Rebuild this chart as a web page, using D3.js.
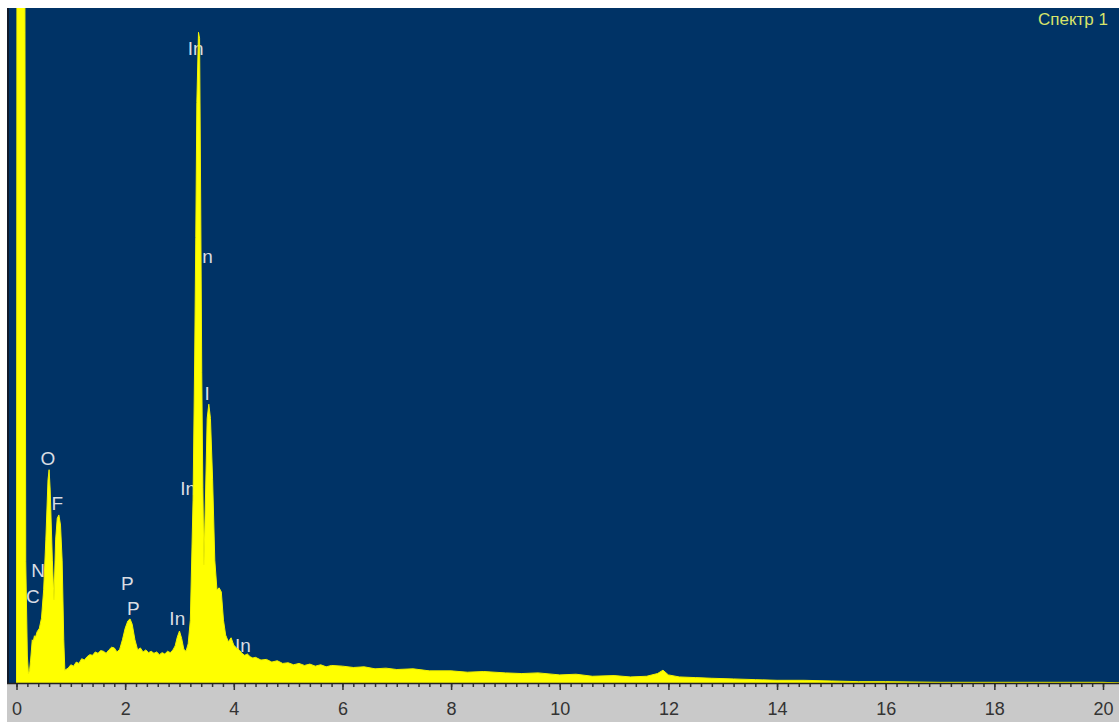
<!DOCTYPE html>
<html>
<head>
<meta charset="utf-8">
<script src="https://cdn.jsdelivr.net/npm/d3@7"></script>
<style>
  body { margin: 0; background: #fff; }
  svg { display: block; font-family: 'Liberation Sans', Arial, sans-serif; }
</style>
</head>
<body>
<svg id="chart"></svg>
<script>
// EDS spectrum, energy in keV and counts
const energies = [
  0.00, 0.01, 0.15, 0.17, 0.20, 0.22, 0.24, 0.26, 0.29, 0.31, 0.33, 0.35, 0.38, 0.42, 0.46,
  0.50, 0.54, 0.58, 0.60, 0.62, 0.66, 0.69, 0.72, 0.75, 0.78, 0.81, 0.84, 0.87, 0.89, 0.95,
  1.00, 1.05, 1.10, 1.15, 1.20, 1.25, 1.30, 1.35, 1.40, 1.45, 1.50, 1.55, 1.60, 1.65, 1.70,
  1.75, 1.80, 1.85, 1.90, 1.95, 2.00, 2.05, 2.09, 2.13, 2.18, 2.23, 2.28, 2.33, 2.38, 2.43,
  2.48, 2.53, 2.58, 2.63, 2.68, 2.73, 2.78, 2.83, 2.88, 2.92, 2.96, 3.00, 3.04, 3.08, 3.12,
  3.16, 3.20, 3.25, 3.28, 3.30, 3.32, 3.35, 3.37, 3.39, 3.41, 3.43, 3.45, 3.48, 3.51, 3.54,
  3.57, 3.61, 3.65, 3.69, 3.73, 3.77, 3.81, 3.85, 3.90, 3.95, 4.00, 4.05, 4.10, 4.15, 4.20,
  4.25, 4.30, 4.35, 4.40, 4.50, 4.60, 4.70, 4.80, 4.90, 5.00, 5.10, 5.20, 5.30, 5.40, 5.50,
  5.60, 5.70, 5.80, 6.00, 6.20, 6.40, 6.60, 6.80, 7.00, 7.30, 7.60, 8.00, 8.30, 8.60, 9.00,
  9.30, 9.60, 10.0, 10.3, 10.6, 11.0, 11.3, 11.6, 11.8, 11.9, 12.0, 12.2, 12.5, 12.8, 13.2,
  13.6, 14.0, 14.5, 15.0, 15.5, 16.0, 17.0, 18.0, 19.0, 20.0, 20.3
];
const counts = [
  0, 1300, 1300, 180, 40, 14, 18, 34, 64, 62, 70, 68, 76, 81, 96,
  138, 212, 301, 316, 286, 182, 123, 212, 244, 249, 234, 182, 64, 19, 22,
  27, 25, 31, 29, 36, 34, 39, 42, 41, 46, 44, 48, 47, 44, 49,
  53, 52, 46, 50, 64, 81, 92, 95, 87, 64, 49, 52, 46, 49, 45,
  47, 44, 46, 42, 45, 43, 47, 45, 49, 55, 68, 77, 66, 50, 47,
  58, 93, 271, 480, 660, 860, 964, 955, 720, 460, 290, 175, 280, 392, 413,
  392, 301, 182, 138, 141, 135, 93, 71, 61, 67, 56, 52, 49, 44, 41,
  43, 39, 37, 38, 34, 35, 31, 33, 29, 30, 27, 29, 26, 28, 25,
  27, 24, 26, 25, 23, 24, 21, 22, 20, 21, 18, 18, 16, 17, 15,
  14, 15, 12, 13, 10, 11, 9, 10, 14, 19, 12, 9, 8, 7, 6,
  5, 4, 4, 3, 2, 2, 1, 1, 1, 1, 0
];

// element labels: text, energy, counts at the label baseline
const labelText = ['O', 'F', 'N', 'C', 'P', 'P', 'In', 'In', 'In', 'In', 'I', 'In'];
const labelEnergy = [0.58, 0.75, 0.40, 0.30, 2.04, 2.15, 2.96, 3.16, 3.30, 3.47, 3.51, 4.17];
const labelCounts = [323, 256, 157, 119, 138, 101, 86, 279, 930, 622, 420, 46];

const xTicks = [0, 2, 4, 6, 8, 10, 12, 14, 16, 18, 20];
const title = 'Спектр 1';

const width = 1119;
const height = 722;
const plot = { left: 9, top: 8, right: 1119, bottom: 683 };

const svg = d3.select('#chart')
  .attr('width', width)
  .attr('height', height);

const x = d3.scaleLinear().domain([0, 20]).range([16.5, 1103]);
const y = d3.scaleLinear().domain([0, 1000]).range([plot.bottom, plot.top]);

// plot background
svg.append('rect')
  .attr('x', plot.left)
  .attr('y', plot.top)
  .attr('width', plot.right - plot.left)
  .attr('height', plot.bottom - plot.top)
  .attr('fill', '#003366');

svg.append('defs').append('clipPath')
  .attr('id', 'clip')
  .append('rect')
  .attr('x', plot.left)
  .attr('y', plot.top)
  .attr('width', plot.right - plot.left)
  .attr('height', plot.bottom - plot.top);

const data = energies.map((e, i) => ({ e, c: counts[i] }));

// labels go under the spectrum, peaks hide parts of them
svg.append('g')
  .attr('clip-path', 'url(#clip)')
  .selectAll('text')
  .data(labelText)
  .enter()
  .append('text')
  .attr('x', (d, i) => x(labelEnergy[i]))
  .attr('y', (d, i) => y(labelCounts[i]))
  .attr('text-anchor', 'middle')
  .attr('fill', '#d9dde3')
  .style('font-size', '19px')
  .text(d => d);

const area = d3.area()
  .x(d => x(d.e))
  .y0(y(0))
  .y1(d => y(d.c));

svg.append('path')
  .datum(data)
  .attr('clip-path', 'url(#clip)')
  .attr('d', area)
  .attr('fill', '#ffff00')
  .attr('stroke', '#f2f200')
  .attr('stroke-width', 1);

svg.append('text')
  .attr('x', 1108)
  .attr('y', 25)
  .attr('text-anchor', 'end')
  .attr('fill', '#d8e46a')
  .style('font-size', '17px')
  .text(title);

// axis strip
svg.append('rect')
  .attr('x', plot.left - 2)
  .attr('y', plot.bottom)
  .attr('width', width - plot.left + 2)
  .attr('height', height - plot.bottom)
  .attr('fill', '#c9c9c9');

const minor = svg.append('g')
  .attr('transform', `translate(0, ${plot.bottom})`)
  .call(d3.axisBottom(x)
    .tickValues(d3.range(0, 101).map(i => i * 0.2))
    .tickSize(4)
    .tickSizeOuter(0)
    .tickFormat(''));
minor.select('.domain').remove();
minor.selectAll('line').attr('stroke', '#333').attr('stroke-width', 1.5);

const major = svg.append('g')
  .attr('transform', `translate(0, ${plot.bottom})`)
  .call(d3.axisBottom(x)
    .tickValues(xTicks)
    .tickSize(7)
    .tickSizeOuter(0)
    .tickPadding(12)
    .tickFormat(d3.format('d')));
major.select('.domain').remove();
major.selectAll('line').attr('stroke', '#333').attr('stroke-width', 1.5);
major.selectAll('text')
  .attr('fill', '#333')
  .style('font-size', '18px')
  .style('font-family', "'Liberation Sans', Arial, sans-serif");

// frame lines
svg.append('line')
  .attr('x1', plot.left - 2).attr('x2', width)
  .attr('y1', plot.bottom + 0.5).attr('y2', plot.bottom + 0.5)
  .attr('stroke', '#222')
  .attr('stroke-width', 1.5);

svg.append('line')
  .attr('x1', plot.left - 1).attr('x2', plot.left - 1)
  .attr('y1', plot.top).attr('y2', plot.bottom)
  .attr('stroke', '#111a2a')
  .attr('stroke-width', 2);
</script>
</body>
</html>
